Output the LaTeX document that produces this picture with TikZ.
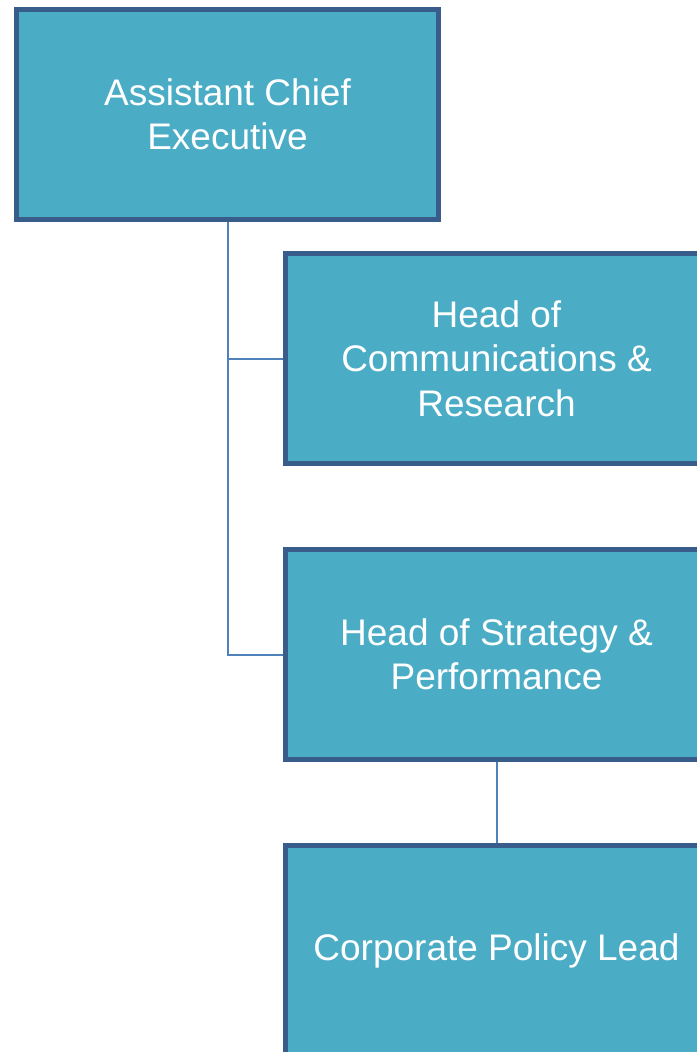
\documentclass[tikz,border=0pt]{standalone}
\usepackage{fontspec}
\setmainfont{Liberation Sans}
\definecolor{boxfill}{HTML}{4BACC6}
\definecolor{boxline}{HTML}{385D8A}
\definecolor{conn}{HTML}{4F81BD}
\begin{document}
\begin{tikzpicture}[x=1pt,y=-1pt,
  orgbox/.style={draw=boxline, fill=boxfill, line width=5pt, minimum width=422pt, minimum height=210pt,
    inner sep=0pt, text=white, align=center,
    font=\fontsize{37}{44.5}\selectfont},
  link/.style={draw=conn, line width=2pt}]
\useasboundingbox (0,0) rectangle (696,1052);
\node[orgbox] (a) at (227.5,114.5) {Assistant Chief\\Executive};
\node[orgbox] (b) at (496.5,358.5) {Head of\\Communications \&\\Research};
\node[orgbox] (c) at (496.5,654.5) {Head of Strategy \&\\Performance};
\node[orgbox] (d) at (496.5,950.5) {Corporate Policy Lead};
\draw[link] (a.south) |- (b.west);
\draw[link] (a.south) |- (c.west);
\draw[link] (c.south) -- (d.north);
\end{tikzpicture}
\end{document}
